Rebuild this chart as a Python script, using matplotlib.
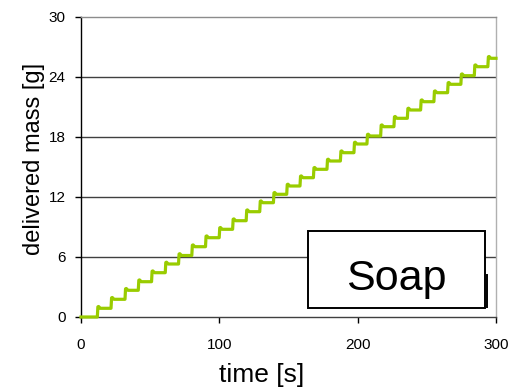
import matplotlib
matplotlib.use("Agg")
import matplotlib.pyplot as plt
import matplotlib.patches as patches

plt.rcParams['font.family'] = ['Liberation Sans', 'DejaVu Sans']

# step onsets [s] and settled delivered mass after each step [g]
step_times = [11.8, 21.7, 31.8, 41.4, 51.0, 60.9, 70.5, 80.1, 90.0, 99.9,
              109.6, 119.4, 129.2, 139.1, 148.7, 158.3, 168.0, 177.8, 187.5, 197.3,
              206.7, 216.6, 226.2, 235.9, 245.5, 255.1, 265.0, 274.6, 284.3, 294.1]
step_levels = [0.87, 1.77, 2.67, 3.53, 4.43, 5.30, 6.15, 7.03, 7.93, 8.77,
               9.63, 10.53, 11.43, 12.27, 13.10, 13.93, 14.77, 15.60, 16.43, 17.30,
               18.10, 19.03, 19.87, 20.70, 21.53, 22.43, 23.27, 24.13, 25.03, 25.87]
OVERSHOOT = 0.18  # small bump at each dose

x_ticks = [0, 100, 200, 300]
y_ticks = [0, 6, 12, 18, 24, 30]

# build the staircase trace from the step list
t = [0.0]
m = [0.0]
prev = 0.0
for ts, lvl in zip(step_times, step_levels):
    t += [ts, ts + 0.4, ts + 0.9, ts + 2.2]
    m += [prev, lvl + 0.8 * OVERSHOOT, lvl + OVERSHOOT, lvl]
    prev = lvl
t.append(300.0)
m.append(prev)

fig = plt.figure(figsize=(5.11, 3.92), dpi=100)
ax = fig.add_axes([81 / 511, 75 / 392, 415 / 511, 300 / 392])

ax.set_xlim(0, 300)
ax.set_ylim(0, 30)
ax.set_xticks(x_ticks)
ax.set_yticks(y_ticks)

# horizontal grid (inner lines dark, top one grey like the frame)
for yv in y_ticks[1:-1]:
    ax.axhline(yv, color='#404040', lw=1.0, zorder=1)

ax.plot(t, m, color='#99cc00', lw=2.3, zorder=3, clip_on=False,
        solid_joinstyle='round')

ax.spines['top'].set_color('#8c8c8c')
ax.spines['right'].set_color('#b0b0b0')
ax.spines['left'].set_color('black')
ax.spines['bottom'].set_color('#404040')
for s in ax.spines.values():
    s.set_linewidth(1.0)

ax.tick_params(axis='y', direction='out', length=4, width=1, pad=7,
               labelsize=11, colors='black')
ax.tick_params(axis='x', direction='out', length=4, width=1, pad=11,
               labelsize=11, colors='black')

fig.text(262 / 511, 1 - 375 / 392, 'time [s]', ha='center', va='center',
         fontsize=19)
fig.text(34 / 511, 1 - 159 / 392, 'delivered mass [g]', ha='center',
         va='center', rotation=90, fontsize=17)

# label box
box = patches.Rectangle((0.546, 0.029), 0.4265, 0.257, transform=ax.transAxes,
                        facecolor='white', edgecolor='black', lw=1.4, zorder=5)
ax.add_patch(box)
ax.plot([0.978, 0.978], [0.033, 0.14], transform=ax.transAxes,
        color='black', lw=1.4, zorder=5)
ax.text(0.759, 0.09, 'Soap', transform=ax.transAxes, ha='center',
        va='baseline', fontsize=31, zorder=6)

fig.savefig('out.png', dpi=100)
